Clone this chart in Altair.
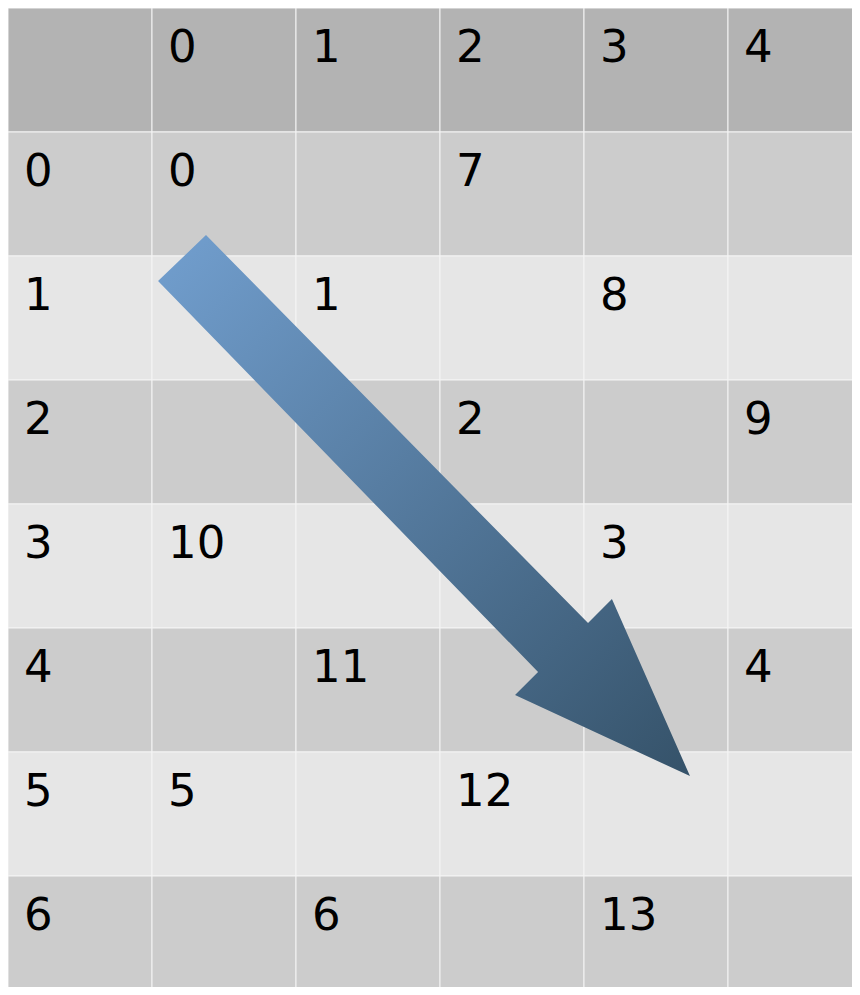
import altair as alt
import pandas as pd

# ---- data ----
col_headers = ["", "0", "1", "2", "3", "4"]
row_labels = ["0", "1", "2", "3", "4", "5", "6"]
cell_values = [
    ["0", "", "7", "", ""],
    ["", "1", "", "8", ""],
    ["", "", "2", "", "9"],
    ["10", "", "", "3", ""],
    ["", "11", "", "", "4"],
    ["5", "", "12", "", ""],
    ["", "6", "", "13", ""],
]
# arrow outline in table units (column, row) measured from the top-left corner
arrow_col = [1.375, 4.028, 4.194, 4.736, 3.521, 3.681, 1.042]
arrow_row = [1.831, 4.960, 4.766, 6.194, 5.540, 5.355, 2.202]

CELL_W, CELL_H = 144, 124
W, H = 844, 979

rows = []
for c, h in enumerate(col_headers):
    rows.append({"c": c, "r": 0, "text": h, "kind": "header"})
for i, lab in enumerate(row_labels):
    r = i + 1
    kind = "even" if i % 2 == 0 else "odd"
    rows.append({"c": 0, "r": r, "text": lab, "kind": kind})
    for j, v in enumerate(cell_values[i]):
        rows.append({"c": j + 1, "r": r, "text": v, "kind": kind})
cells = pd.DataFrame(rows)
cells["c2"] = cells["c"] + 1
cells["r2"] = cells["r"] + 1

arrow = pd.DataFrame({"x": arrow_col, "y": arrow_row, "i": list(range(len(arrow_col)))})

xs = alt.Scale(domain=[0, W / CELL_W], nice=False, zero=False)
ys = alt.Scale(domain=[0, H / CELL_H], nice=False, zero=False, reverse=True)

rects = alt.Chart(cells).mark_rect(stroke="#f4f4f4", strokeWidth=1).encode(
    x=alt.X("c:Q", scale=xs, axis=None),
    x2="c2:Q",
    y=alt.Y("r:Q", scale=ys, axis=None),
    y2="r2:Q",
    color=alt.Color(
        "kind:N",
        scale=alt.Scale(domain=["header", "even", "odd"], range=["#b3b3b3", "#cccccc", "#e6e6e6"]),
        legend=None,
    ),
)

texts = alt.Chart(cells).transform_filter("datum.text != ''").mark_text(
    align="left", baseline="alphabetic", dx=16, dy=53.5,
    font="DejaVu Sans", fontSize=45, color="black",
).encode(
    x=alt.X("c:Q", scale=xs, axis=None),
    y=alt.Y("r:Q", scale=ys, axis=None),
    text="text:N",
)

grad = alt.LinearGradient(
    gradient="linear",
    stops=[alt.GradientStop(color="#729fcf", offset=0), alt.GradientStop(color="#355269", offset=1)],
    x1=0, y1=0, x2=1, y2=1,
)

arrow_mark = alt.Chart(arrow).mark_line(
    filled=True, interpolate="linear-closed", color=grad, strokeWidth=0,
).encode(
    x=alt.X("x:Q", scale=xs, axis=None),
    y=alt.Y("y:Q", scale=ys, axis=None),
    order="i:Q",
)

chart = alt.layer(rects, texts, arrow_mark).properties(
    width=W, height=H, padding=0, autosize=alt.AutoSizeParams(type="none")
).configure_view(stroke=None)

chart.save("out.html", embed_options={"renderer": "svg", "actions": False})
